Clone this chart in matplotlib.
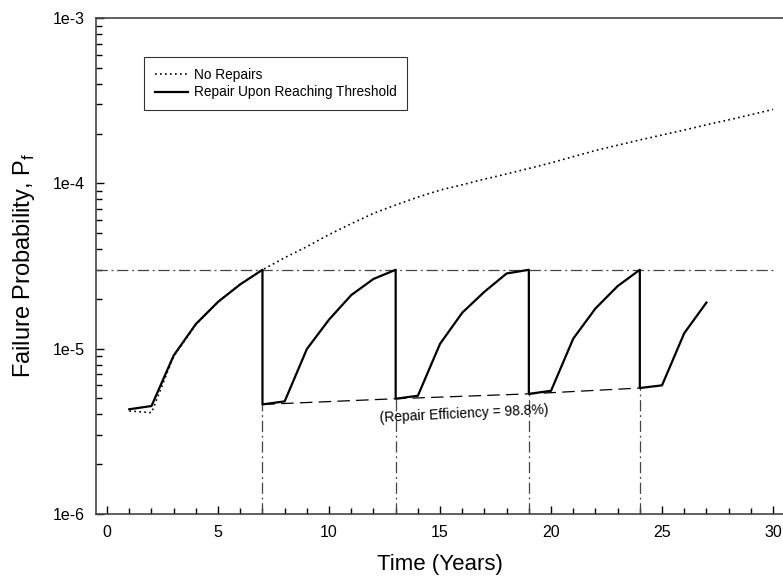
import numpy as np
import matplotlib.pyplot as plt
from matplotlib.ticker import MultipleLocator, LogLocator, NullFormatter, FixedLocator

plt.rcParams['font.family'] = ['Liberation Sans', 'DejaVu Sans']

# no repairs
years_nr = np.arange(1, 31)
pf_nr = [4.2e-6, 4.1e-6, 9.0e-6, 1.4e-5, 1.92e-5, 2.45e-5, 3.0e-5, 3.55e-5, 4.14e-5, 4.9e-5,
         5.7e-5, 6.58e-5, 7.4e-5, 8.25e-5, 9.1e-5, 9.8e-5, 1.06e-4, 1.14e-4, 1.23e-4, 1.33e-4,
         1.45e-4, 1.58e-4, 1.70e-4, 1.83e-4, 1.96e-4, 2.10e-4, 2.26e-4, 2.42e-4, 2.60e-4, 2.80e-4]

# repair upon reaching threshold (repeated year = repair drop)
years_r = [1, 2, 3, 4, 5, 6, 7, 7, 8, 9, 10, 11, 12, 13, 13, 14, 15, 16, 17, 18, 19, 19,
           20, 21, 22, 23, 24, 24, 25, 26, 27]
pf_r = [4.3e-6, 4.5e-6, 9.1e-6, 1.41e-5, 1.92e-5, 2.45e-5, 3.0e-5, 4.6e-6,
        4.8e-6, 9.95e-6, 1.5e-5, 2.11e-5, 2.64e-5, 3.0e-5, 4.98e-6,
        5.19e-6, 1.07e-5, 1.65e-5, 2.21e-5, 2.85e-5, 3.0e-5, 5.33e-6,
        5.56e-6, 1.15e-5, 1.75e-5, 2.39e-5, 3.0e-5, 5.78e-6,
        6.0e-6, 1.24e-5, 1.9e-5]

threshold = 3e-5
repair_years = [7, 13, 19, 24]
repair_pf = [4.6e-6, 4.98e-6, 5.33e-6, 5.78e-6]

fig = plt.figure(figsize=(7.83, 5.78), dpi=100)
ax = fig.add_axes([96 / 783, 64 / 578, 687 / 783, 496 / 578])

dashdot = (0, (9, 3, 1.5, 3))
ax.plot([-0.5, 30], [threshold, threshold], color='#444444', lw=0.9, linestyle=dashdot)
for yr, pf in zip(repair_years, repair_pf):
    ax.plot([yr, yr], [1e-6, pf], color='#444444', lw=0.9, linestyle=dashdot)
ax.plot(repair_years, repair_pf, color='black', lw=0.9, linestyle=(0, (10, 5)))

ax.plot(years_nr, pf_nr, color='black', lw=1.2, linestyle=(0, (1, 2)), label='No Repairs')
ax.plot(years_r, pf_r, color='black', lw=1.6, label='Repair Upon Reaching Threshold')

ax.text(16.1, 4.02e-6, '(Repair Efficiency = 98.8%)', fontsize=10, rotation=2.8,
        ha='center', va='center')

ax.set_yscale('log')
ax.set_ylim(1e-6, 1e-3)
ax.set_xlim(-0.5, 30.45)
ax.xaxis.set_major_locator(MultipleLocator(5))
ax.xaxis.set_minor_locator(MultipleLocator(1))
ax.yaxis.set_major_locator(FixedLocator([1e-6, 1e-5, 1e-4, 1e-3]))
ax.yaxis.set_minor_locator(LogLocator(base=10, subs=np.arange(2, 10)))
ax.yaxis.set_minor_formatter(NullFormatter())
ax.set_yticklabels(['1e-6', '1e-5', '1e-4', '1e-3'])
ax.tick_params(which='both', direction='in', top=False, right=False, labelsize=11.5)
ax.tick_params(which='major', length=6, width=1)
ax.tick_params(which='minor', length=4, width=1)
ax.tick_params(axis='x', pad=8)
ax.tick_params(axis='y', pad=8)
ax.spines['right'].set_visible(False)
for s in ['left', 'bottom', 'top']:
    ax.spines[s].set_color('#444444')
    ax.spines[s].set_linewidth(1.2)

ax.set_xlabel('Time (Years)', fontsize=16, labelpad=10)
ax.set_ylabel('Failure Probability, P$_\\mathregular{f}$', fontsize=17, labelpad=11)

leg = ax.legend(loc='upper left', bbox_to_anchor=(0.070, 0.921), fontsize=9.8, frameon=True,
                fancybox=False, edgecolor='black', handlelength=2.4, handletextpad=0.45,
                borderpad=0.8, labelspacing=0.25, borderaxespad=0)
leg.get_frame().set_linewidth(0.8)

fig.savefig('out.png', dpi=100)
